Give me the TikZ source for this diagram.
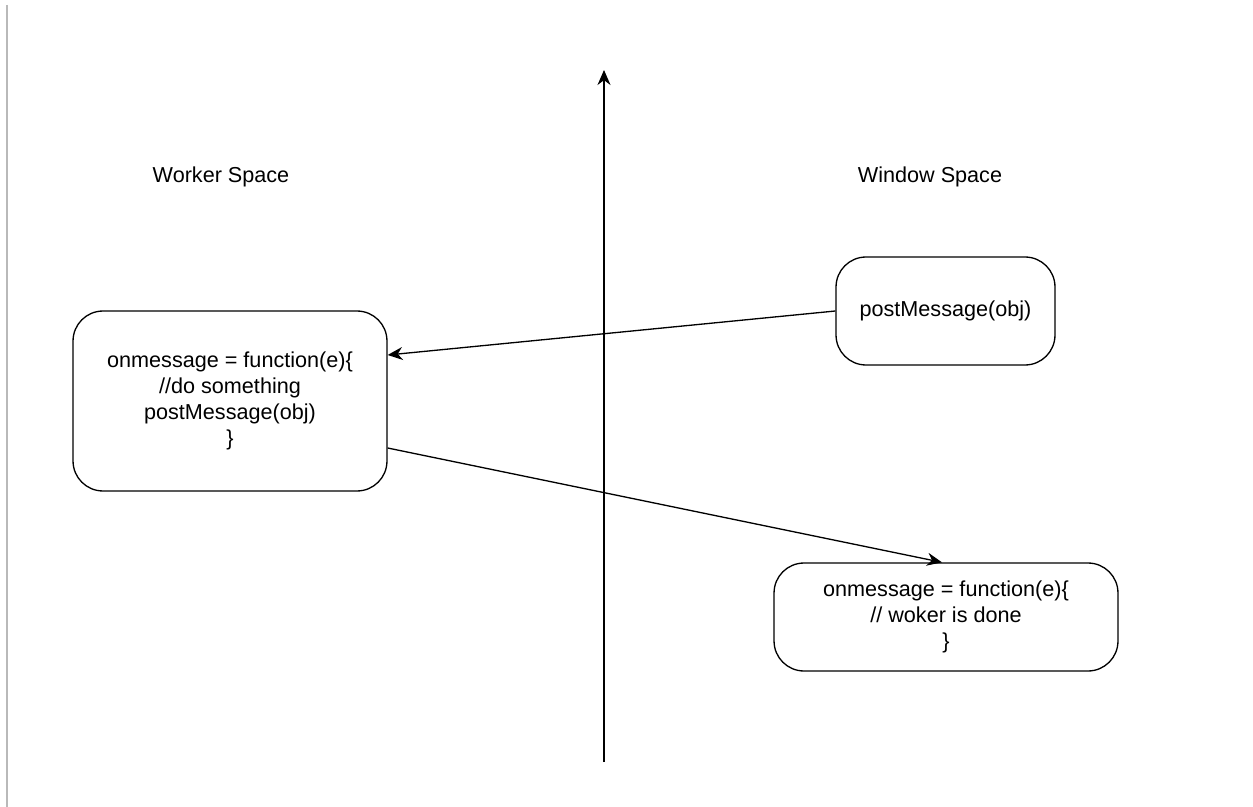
\documentclass[tikz,border=0pt]{standalone}
\usepackage{fontspec}
\setmainfont{Liberation Sans}
\usetikzlibrary{arrows.meta}

\begin{document}
\begin{tikzpicture}[x=0.02cm, y=-0.02cm,
    box/.style={draw, rounded corners=0.6cm, line width=0.75pt, align=center,
        font=\fontsize{12.3}{14.8}\selectfont, inner sep=0pt},
    msg/.style={-{Stealth[length=0.3cm, width=0.26cm]}, line width=0.75pt},
    title/.style={font=\fontsize{12.3}{14.8}\selectfont}]
    \useasboundingbox (0,0) rectangle (1253,807);
    \draw[gray!55, line width=1.2pt] (7,5) -- (7,807);
    % the border between the two spaces
    \coordinate (B) at (604,762);
    \coordinate (T) at (604,70);
    \draw[msg] (B) -- (T);
    \node[title] (worker) at (221,177) {Worker Space};
    \node[title] (window) at (930,177) {Window Space};
    \node[box, minimum width=6.28cm, minimum height=3.6cm] (W) at (230,401)
        {onmessage = function(e)\{\\//do something\\postMessage(obj)\\\}};
    \node[box, minimum width=4.38cm, minimum height=2.16cm] (P) at (945.5,311)
        {postMessage(obj)};
    \node[box, minimum width=6.88cm, minimum height=2.16cm] (D) at (946,617)
        {onmessage = function(e)\{\\// woker is done\\\}};
    \draw[msg] (P.west) -- ([yshift=0.92cm]W.east);
    \draw[msg] ([yshift=-0.94cm]W.east) -- ([xshift=-0.08cm]D.north);
\end{tikzpicture}
\end{document}
